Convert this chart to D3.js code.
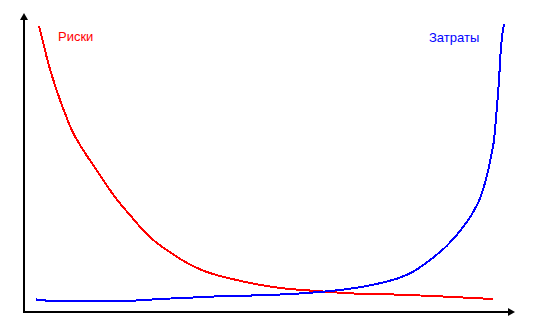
<!DOCTYPE html>
<html>
<head>
<meta charset="utf-8">
<script src="https://cdn.jsdelivr.net/npm/d3@7"></script>
<style>
  html, body { margin: 0; padding: 0; background: #fff; }
  svg { display: block; }
  text { font-family: "Liberation Sans", Arial, sans-serif; }
</style>
</head>
<body>
<svg id="chart" width="552" height="324"></svg>
<script>
// Risk curve (falls as spending grows)
const riskX = [3.06, 3.94, 4.96, 5.98, 7.35, 8.37, 9.73, 11.43, 13.82, 15.86, 17.90, 19.94, 21.63, 23.67, 26.39, 29.80, 33.20, 36.59, 40.00, 43.41, 47.49, 52.86, 59.73, 66.53, 76.73, 83.47, 90.35, 95.65];
const riskY = [95.65, 89.87, 83.18, 77.59, 70.90, 66.46, 60.87, 55.85, 49.83, 44.82, 39.97, 35.62, 32.44, 28.53, 24.08, 19.97, 16.49, 13.81, 12.04, 10.70, 9.26, 7.93, 7.02, 6.25, 5.79, 5.35, 4.78, 4.35];

// Cost curve (grows sharply at the end)
const costX = [2.45, 5.92, 20.2, 28.37, 35.24, 40.61, 46.12, 54.29, 59.73, 63.06, 66.53, 69.94, 73.33, 76.73, 79.45, 82.86, 86.27, 89.65, 91.69, 93.06, 94.43, 95.45, 95.92, 96.47, 96.94, 97.35, 97.96];
const costY = [4.2, 3.7, 3.7, 4.4, 4.9, 5.3, 5.5, 6.0, 6.6, 7.1, 7.8, 8.7, 9.9, 11.5, 13.5, 17.4, 22.1, 28.5, 33.5, 38.0, 45.3, 53.1, 57.5, 67.6, 77.6, 88.7, 96.3];

const labels = ["Риски", "Затраты"];
const colors = ["#ff0000", "#0000ff"];

const svg = d3.select("#chart");
const x = d3.scaleLinear().domain([0, 100]).range([24, 514]);
const y = d3.scaleLinear().domain([0, 100]).range([312, 13]);

// Axes with arrow heads
const axisG = svg.append("g");
axisG.append("line")
  .attr("x1", x(0) - 1).attr("x2", x(100) - 5)
  .attr("y1", y(0)).attr("y2", y(0))
  .attr("stroke", "#000").attr("stroke-width", 2).attr("shape-rendering", "crispEdges");
axisG.append("line")
  .attr("x1", x(0)).attr("x2", x(0))
  .attr("y1", y(0) + 1).attr("y2", y(100) + 5)
  .attr("stroke", "#000").attr("stroke-width", 2).attr("shape-rendering", "crispEdges");
axisG.append("path")
  .attr("d", `M${x(100) + 1},${y(0)} L${x(100) - 6},${y(0) - 4} L${x(100) - 6},${y(0) + 4} Z`)
  .attr("fill", "#000");
axisG.append("path")
  .attr("d", `M${x(0)},${y(100)} L${x(0) - 4},${y(100) + 7} L${x(0) + 4},${y(100) + 7} Z`)
  .attr("fill", "#000");

const line = d3.line()
  .x(d => x(d[0]))
  .y(d => y(d[1]))
  .curve(d3.curveMonotoneX);

const series = [
  d3.zip(riskX, riskY),
  d3.zip(costX, costY)
];

svg.selectAll("path.series")
  .data(series)
  .join("path")
  .attr("class", "series")
  .attr("d", line)
  .attr("fill", "none")
  .attr("stroke", (d, i) => colors[i])
  .attr("stroke-width", 2)
  .attr("shape-rendering", "crispEdges");

// Series labels
svg.append("text")
  .attr("x", 58).attr("y", 41)
  .attr("font-size", 13)
  .attr("fill", colors[0])
  .text(labels[0]);
svg.append("text")
  .attr("x", 429).attr("y", 42)
  .attr("font-size", 13)
  .attr("fill", colors[1])
  .text(labels[1]);
</script>
</body>
</html>
